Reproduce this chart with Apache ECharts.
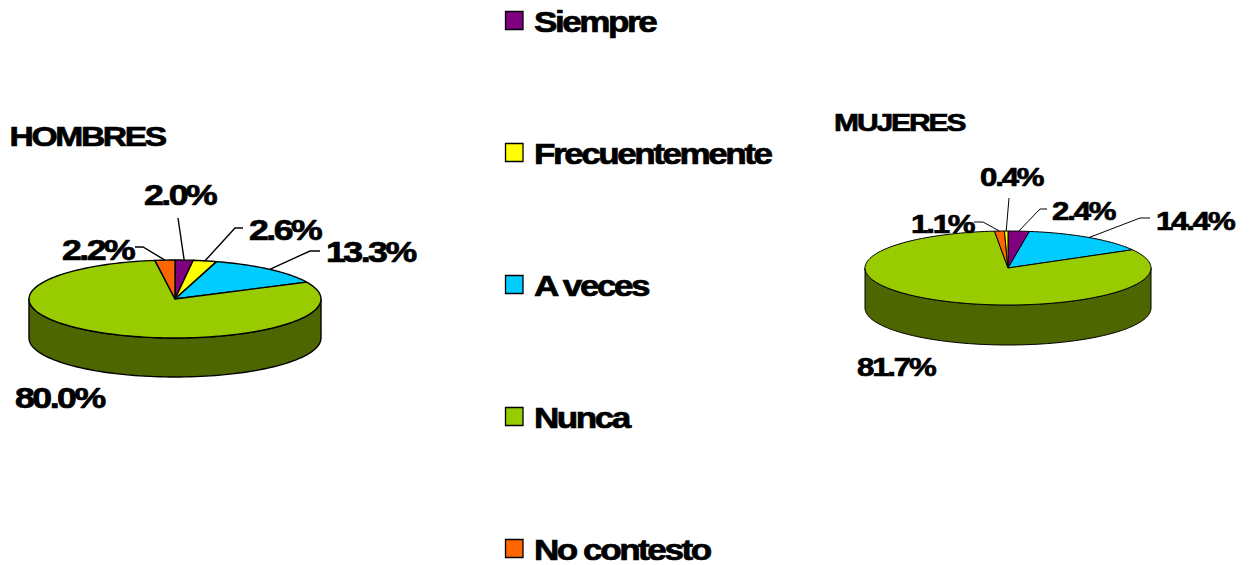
<!DOCTYPE html>
<html><head><meta charset="utf-8">
<script src="https://cdn.jsdelivr.net/npm/echarts@6/dist/echarts.min.js"></script>
<style>
html,body{margin:0;padding:0;background:#fff}
#c{width:1251px;height:565px}
svg text{letter-spacing:-.07em}
</style></head><body><div id="c"></div>
<script>
const categories = ['Siempre','Frecuentemente','A veces','Nunca','No contesto'];
const colors = ['#800080','#ffff00','#00ccff','#99cc00','#ff6600'];
const darkColors = ['#400040','#808000','#006680','#4d6600','#803300'];
const hombresValues = [2.0,2.6,13.3,80.0,2.2];
const mujeresValues = [2.4,0.4,14.4,81.7,1.1];
// drawing order clockwise from the top of each pie
const hombresOrder = [0,1,2,3,4];
const mujeresOrder = [0,2,3,4,1];
const hombresLabels = ['2.0%','2.6%','13.3%','80.0%','2.2%'];
const mujeresLabels = ['2.4%','0.4%','14.4%','81.7%','1.1%'];

const FONT = '"Liberation Sans",Arial,sans-serif';
const SX = 1.21;
const hombresLayout = {cx:175,cy:299,rx:146,ry:39,depth:39,lw:1.4,fs:29.5,
  labels:{0:[144,195],1:[249,230],2:[326,252],3:[15,398],4:[62,250]},
  elbows:{0:[[178,218]],1:[[243,228],[235,228]],2:[[320,251],[310,251]],4:[[135,247],[143,247]]}};
const mujeresLayout = {cx:1008,cy:268,rx:143,ry:37,depth:40,lw:1,fs:25.8,
  labels:{1:[980,177],0:[1052,211],2:[1156,221],3:[857,367],4:[911,224]},
  elbows:{1:[[1009,198]],0:[[1047,209],[1040,209]],2:[[1150,218],[1140,218]],4:[[974,222],[983,222]]}};

function stretchedText(x,y,text,fs){
  return {type:'text',x:x,y:y,scaleX:SX,z2:20,
    style:{x:0,y:0,text:text,fill:'#000',stroke:'#000',lineWidth:0.7,font:'bold '+fs+'px '+FONT,align:'left',verticalAlign:'middle'}};
}
function rim(L,deg,down){
  const a=deg*Math.PI/180;
  return [L.cx+L.rx*Math.sin(a), L.cy-L.ry*Math.cos(a)+(down?L.depth:0)];
}
function arc(L,from,to,down){
  const pts=[],n=Math.max(2,Math.ceil(Math.abs(to-from)/2));
  for(let i=0;i<=n;i++) pts.push(rim(L,from+(to-from)*i/n,down));
  return pts;
}
function pieSeries(values,order,labels,L){
  const total=values.reduce((a,b)=>a+b,0);
  return {type:'custom',coordinateSystem:'none',silent:true,clip:false,
    data:order.map(i=>[i,values[i]]),
    renderItem:function(params,api){
      const pos=params.dataIndex,cat=order[pos];
      let sum=0; for(let k=0;k<pos;k++) sum+=values[order[k]];
      const from=sum/total*360,to=(sum+values[cat])/total*360;
      const children=[];
      const f=Math.max(from,90),t=Math.min(to,270);
      if(t>f){
        children.push({type:'polygon',z2:1,shape:{points:arc(L,f,t,false).concat(arc(L,t,f,true))},
          style:{fill:darkColors[cat],stroke:'#000',lineWidth:L.lw}});
      }
      children.push({type:'polygon',z2:5,shape:{points:[[L.cx,L.cy]].concat(arc(L,from,to,false))},
        style:{fill:colors[cat],stroke:'#000',lineWidth:L.lw,lineJoin:'round'}});
      const el=L.elbows[cat];
      if(el){
        children.push({type:'polyline',z2:10,shape:{points:el.concat([rim(L,(from+to)/2,false)])},
          style:{fill:null,stroke:'#000',lineWidth:L.lw}});
      }
      const lp=L.labels[cat];
      children.push(stretchedText(lp[0],lp[1],labels[cat],L.fs));
      return {type:'group',children:children};
    }};
}
const legendYs=[21,153,285,417,549];
const legendSeries={type:'custom',coordinateSystem:'none',silent:true,clip:false,
  data:categories.map((c,i)=>[i]),
  renderItem:function(params){
    const i=params.dataIndex,y=legendYs[i];
    return {type:'group',children:[
      {type:'rect',shape:{x:505.5,y:y-9.5,width:17.5,height:18},style:{fill:colors[i],stroke:'#000',lineWidth:1.3}},
      stretchedText(534,y+1,categories[i],29)
    ]};
  }};
const titleRows=[['HOMBRES',9.5,137,27.8],['MUJERES',834,122,24.8]];
const titleSeries={type:'custom',coordinateSystem:'none',silent:true,clip:false,
  data:titleRows.map((r,i)=>[i]),
  renderItem:function(params){
    const r=titleRows[params.dataIndex];
    return stretchedText(r[1],r[2],r[0],r[3]);
  }};
const chart=echarts.init(document.getElementById('c'),null,{renderer:'svg'});
chart.setOption({animation:false,backgroundColor:'#fff',
  series:[pieSeries(hombresValues,hombresOrder,hombresLabels,hombresLayout),
          pieSeries(mujeresValues,mujeresOrder,mujeresLabels,mujeresLayout),
          legendSeries,titleSeries]});
</script></body></html>
